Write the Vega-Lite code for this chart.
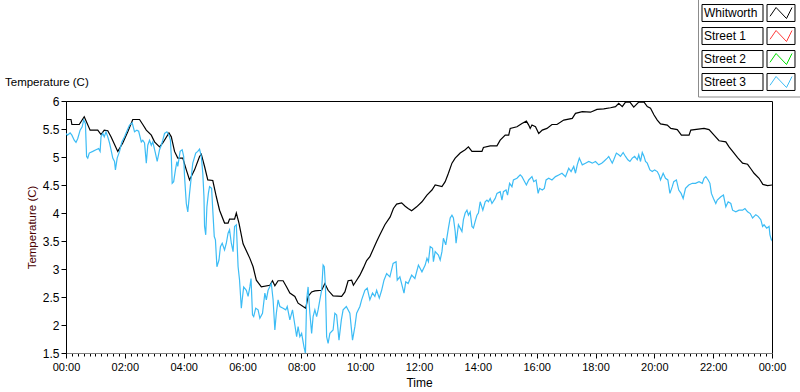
{
 "$schema": "https://vega.github.io/schema/vega-lite/v6.json",
 "width": 706, "height": 252,
 "autosize": {"type": "none"},
 "padding": {"left": 66, "top": 101, "right": 28, "bottom": 39},
 "background": "white",
 "config": {"view": {"stroke": "#000", "strokeWidth": 1}, "font": "Liberation Sans"},
 "title": {"text": "Temperature (C)", "anchor": "start", "frame": "group", "dx": -61, "offset": -91, "fontSize": 11.5, "fontWeight": "normal", "color": "#000", "font": "Liberation Sans"},
 "datasets": {
  "temps": [
{"t":0.00,"v":5.67,"s":"Whitworth"},{"t":0.17,"v":5.67,"s":"Whitworth"},{"t":0.20,"v":5.58,"s":"Whitworth"},{"t":0.45,"v":5.58,"s":"Whitworth"},{"t":0.62,"v":5.72,"s":"Whitworth"},{"t":0.82,"v":5.48,"s":"Whitworth"},{"t":1.08,"v":5.48,"s":"Whitworth"},{"t":1.19,"v":5.40,"s":"Whitworth"},{"t":1.30,"v":5.48,"s":"Whitworth"},{"t":1.42,"v":5.47,"s":"Whitworth"},{"t":1.53,"v":5.36,"s":"Whitworth"},{"t":1.76,"v":5.10,"s":"Whitworth"},{"t":1.93,"v":5.25,"s":"Whitworth"},{"t":2.10,"v":5.45,"s":"Whitworth"},{"t":2.27,"v":5.67,"s":"Whitworth"},{"t":2.50,"v":5.67,"s":"Whitworth"},{"t":2.61,"v":5.58,"s":"Whitworth"},{"t":2.73,"v":5.48,"s":"Whitworth"},{"t":2.90,"v":5.39,"s":"Whitworth"},{"t":3.01,"v":5.27,"s":"Whitworth"},{"t":3.18,"v":5.18,"s":"Whitworth"},{"t":3.29,"v":5.25,"s":"Whitworth"},{"t":3.50,"v":5.43,"s":"Whitworth"},{"t":3.58,"v":5.36,"s":"Whitworth"},{"t":3.69,"v":5.10,"s":"Whitworth"},{"t":3.80,"v":4.98,"s":"Whitworth"},{"t":3.97,"v":4.98,"s":"Whitworth"},{"t":4.09,"v":4.77,"s":"Whitworth"},{"t":4.20,"v":4.59,"s":"Whitworth"},{"t":4.37,"v":4.77,"s":"Whitworth"},{"t":4.54,"v":5.01,"s":"Whitworth"},{"t":4.60,"v":5.05,"s":"Whitworth"},{"t":4.71,"v":4.83,"s":"Whitworth"},{"t":4.82,"v":4.59,"s":"Whitworth"},{"t":4.99,"v":4.58,"s":"Whitworth"},{"t":5.11,"v":4.29,"s":"Whitworth"},{"t":5.22,"v":4.05,"s":"Whitworth"},{"t":5.39,"v":3.82,"s":"Whitworth"},{"t":5.51,"v":3.82,"s":"Whitworth"},{"t":5.56,"v":3.89,"s":"Whitworth"},{"t":5.73,"v":3.89,"s":"Whitworth"},{"t":5.79,"v":4.00,"s":"Whitworth"},{"t":5.88,"v":3.82,"s":"Whitworth"},{"t":6.02,"v":3.45,"s":"Whitworth"},{"t":6.25,"v":3.19,"s":"Whitworth"},{"t":6.36,"v":3.04,"s":"Whitworth"},{"t":6.47,"v":2.80,"s":"Whitworth"},{"t":6.64,"v":2.68,"s":"Whitworth"},{"t":6.93,"v":2.71,"s":"Whitworth"},{"t":7.02,"v":2.79,"s":"Whitworth"},{"t":7.10,"v":2.70,"s":"Whitworth"},{"t":7.21,"v":2.79,"s":"Whitworth"},{"t":7.38,"v":2.79,"s":"Whitworth"},{"t":7.50,"v":2.68,"s":"Whitworth"},{"t":7.61,"v":2.57,"s":"Whitworth"},{"t":7.78,"v":2.51,"s":"Whitworth"},{"t":7.89,"v":2.39,"s":"Whitworth"},{"t":8.06,"v":2.33,"s":"Whitworth"},{"t":8.15,"v":2.30,"s":"Whitworth"},{"t":8.23,"v":2.51,"s":"Whitworth"},{"t":8.35,"v":2.59,"s":"Whitworth"},{"t":8.46,"v":2.61,"s":"Whitworth"},{"t":8.69,"v":2.62,"s":"Whitworth"},{"t":8.80,"v":2.74,"s":"Whitworth"},{"t":8.91,"v":2.62,"s":"Whitworth"},{"t":9.08,"v":2.52,"s":"Whitworth"},{"t":9.37,"v":2.51,"s":"Whitworth"},{"t":9.48,"v":2.59,"s":"Whitworth"},{"t":9.59,"v":2.79,"s":"Whitworth"},{"t":9.71,"v":2.80,"s":"Whitworth"},{"t":9.77,"v":2.71,"s":"Whitworth"},{"t":9.88,"v":2.80,"s":"Whitworth"},{"t":9.99,"v":2.89,"s":"Whitworth"},{"t":10.11,"v":3.02,"s":"Whitworth"},{"t":10.22,"v":3.15,"s":"Whitworth"},{"t":10.33,"v":3.22,"s":"Whitworth"},{"t":10.56,"v":3.49,"s":"Whitworth"},{"t":10.67,"v":3.61,"s":"Whitworth"},{"t":10.84,"v":3.79,"s":"Whitworth"},{"t":11.02,"v":3.93,"s":"Whitworth"},{"t":11.13,"v":4.08,"s":"Whitworth"},{"t":11.24,"v":4.16,"s":"Whitworth"},{"t":11.41,"v":4.18,"s":"Whitworth"},{"t":11.53,"v":4.12,"s":"Whitworth"},{"t":11.63,"v":4.08,"s":"Whitworth"},{"t":11.75,"v":4.04,"s":"Whitworth"},{"t":11.92,"v":4.11,"s":"Whitworth"},{"t":12.10,"v":4.20,"s":"Whitworth"},{"t":12.27,"v":4.32,"s":"Whitworth"},{"t":12.44,"v":4.41,"s":"Whitworth"},{"t":12.55,"v":4.50,"s":"Whitworth"},{"t":12.78,"v":4.47,"s":"Whitworth"},{"t":12.89,"v":4.56,"s":"Whitworth"},{"t":13.00,"v":4.71,"s":"Whitworth"},{"t":13.12,"v":4.89,"s":"Whitworth"},{"t":13.23,"v":4.98,"s":"Whitworth"},{"t":13.40,"v":5.07,"s":"Whitworth"},{"t":13.57,"v":5.13,"s":"Whitworth"},{"t":13.68,"v":5.18,"s":"Whitworth"},{"t":13.80,"v":5.10,"s":"Whitworth"},{"t":14.14,"v":5.10,"s":"Whitworth"},{"t":14.19,"v":5.17,"s":"Whitworth"},{"t":14.42,"v":5.20,"s":"Whitworth"},{"t":14.65,"v":5.20,"s":"Whitworth"},{"t":14.76,"v":5.30,"s":"Whitworth"},{"t":14.93,"v":5.39,"s":"Whitworth"},{"t":15.05,"v":5.39,"s":"Whitworth"},{"t":15.10,"v":5.51,"s":"Whitworth"},{"t":15.33,"v":5.54,"s":"Whitworth"},{"t":15.50,"v":5.60,"s":"Whitworth"},{"t":15.65,"v":5.64,"s":"Whitworth"},{"t":15.73,"v":5.57,"s":"Whitworth"},{"t":15.78,"v":5.51,"s":"Whitworth"},{"t":15.84,"v":5.57,"s":"Whitworth"},{"t":15.96,"v":5.54,"s":"Whitworth"},{"t":16.07,"v":5.42,"s":"Whitworth"},{"t":16.19,"v":5.48,"s":"Whitworth"},{"t":16.35,"v":5.51,"s":"Whitworth"},{"t":16.52,"v":5.58,"s":"Whitworth"},{"t":16.69,"v":5.58,"s":"Whitworth"},{"t":16.92,"v":5.66,"s":"Whitworth"},{"t":17.21,"v":5.69,"s":"Whitworth"},{"t":17.32,"v":5.78,"s":"Whitworth"},{"t":17.55,"v":5.81,"s":"Whitworth"},{"t":17.83,"v":5.80,"s":"Whitworth"},{"t":18.05,"v":5.85,"s":"Whitworth"},{"t":18.28,"v":5.86,"s":"Whitworth"},{"t":18.51,"v":5.88,"s":"Whitworth"},{"t":18.68,"v":5.90,"s":"Whitworth"},{"t":18.79,"v":5.96,"s":"Whitworth"},{"t":18.91,"v":5.90,"s":"Whitworth"},{"t":19.02,"v":5.98,"s":"Whitworth"},{"t":19.17,"v":5.98,"s":"Whitworth"},{"t":19.30,"v":5.89,"s":"Whitworth"},{"t":19.47,"v":5.98,"s":"Whitworth"},{"t":19.65,"v":5.98,"s":"Whitworth"},{"t":19.76,"v":5.90,"s":"Whitworth"},{"t":19.87,"v":5.87,"s":"Whitworth"},{"t":19.99,"v":5.75,"s":"Whitworth"},{"t":20.10,"v":5.66,"s":"Whitworth"},{"t":20.21,"v":5.59,"s":"Whitworth"},{"t":20.44,"v":5.57,"s":"Whitworth"},{"t":20.56,"v":5.51,"s":"Whitworth"},{"t":20.78,"v":5.49,"s":"Whitworth"},{"t":20.92,"v":5.39,"s":"Whitworth"},{"t":21.18,"v":5.39,"s":"Whitworth"},{"t":21.24,"v":5.48,"s":"Whitworth"},{"t":21.69,"v":5.51,"s":"Whitworth"},{"t":21.86,"v":5.49,"s":"Whitworth"},{"t":22.03,"v":5.39,"s":"Whitworth"},{"t":22.20,"v":5.29,"s":"Whitworth"},{"t":22.43,"v":5.27,"s":"Whitworth"},{"t":22.54,"v":5.18,"s":"Whitworth"},{"t":22.71,"v":5.07,"s":"Whitworth"},{"t":22.83,"v":4.99,"s":"Whitworth"},{"t":23.00,"v":4.89,"s":"Whitworth"},{"t":23.17,"v":4.87,"s":"Whitworth"},{"t":23.28,"v":4.79,"s":"Whitworth"},{"t":23.39,"v":4.71,"s":"Whitworth"},{"t":23.56,"v":4.62,"s":"Whitworth"},{"t":23.69,"v":4.51,"s":"Whitworth"},{"t":23.85,"v":4.49,"s":"Whitworth"},{"t":24.00,"v":4.50,"s":"Whitworth"},
{"t":0.00,"v":5.42,"s":"Street 3"},{"t":0.05,"v":5.39,"s":"Street 3"},{"t":0.14,"v":5.43,"s":"Street 3"},{"t":0.20,"v":5.39,"s":"Street 3"},{"t":0.28,"v":5.30,"s":"Street 3"},{"t":0.34,"v":5.26,"s":"Street 3"},{"t":0.40,"v":5.33,"s":"Street 3"},{"t":0.48,"v":5.48,"s":"Street 3"},{"t":0.55,"v":5.54,"s":"Street 3"},{"t":0.60,"v":5.66,"s":"Street 3"},{"t":0.66,"v":5.60,"s":"Street 3"},{"t":0.68,"v":5.30,"s":"Street 3"},{"t":0.70,"v":5.01,"s":"Street 3"},{"t":0.74,"v":4.98,"s":"Street 3"},{"t":0.79,"v":5.07,"s":"Street 3"},{"t":0.91,"v":5.10,"s":"Street 3"},{"t":1.02,"v":5.13,"s":"Street 3"},{"t":1.11,"v":5.15,"s":"Street 3"},{"t":1.16,"v":5.10,"s":"Street 3"},{"t":1.19,"v":5.36,"s":"Street 3"},{"t":1.25,"v":5.42,"s":"Street 3"},{"t":1.30,"v":5.36,"s":"Street 3"},{"t":1.36,"v":5.45,"s":"Street 3"},{"t":1.42,"v":5.36,"s":"Street 3"},{"t":1.48,"v":5.25,"s":"Street 3"},{"t":1.53,"v":5.13,"s":"Street 3"},{"t":1.59,"v":4.98,"s":"Street 3"},{"t":1.65,"v":4.92,"s":"Street 3"},{"t":1.68,"v":4.77,"s":"Street 3"},{"t":1.74,"v":4.98,"s":"Street 3"},{"t":1.82,"v":5.10,"s":"Street 3"},{"t":1.90,"v":5.27,"s":"Street 3"},{"t":1.99,"v":5.36,"s":"Street 3"},{"t":2.06,"v":5.45,"s":"Street 3"},{"t":2.16,"v":5.57,"s":"Street 3"},{"t":2.25,"v":5.61,"s":"Street 3"},{"t":2.33,"v":5.45,"s":"Street 3"},{"t":2.41,"v":5.48,"s":"Street 3"},{"t":2.47,"v":5.46,"s":"Street 3"},{"t":2.56,"v":5.27,"s":"Street 3"},{"t":2.61,"v":5.30,"s":"Street 3"},{"t":2.67,"v":5.25,"s":"Street 3"},{"t":2.73,"v":4.89,"s":"Street 3"},{"t":2.78,"v":5.21,"s":"Street 3"},{"t":2.84,"v":5.30,"s":"Street 3"},{"t":2.90,"v":5.21,"s":"Street 3"},{"t":2.95,"v":5.27,"s":"Street 3"},{"t":3.04,"v":5.07,"s":"Street 3"},{"t":3.10,"v":4.92,"s":"Street 3"},{"t":3.18,"v":5.13,"s":"Street 3"},{"t":3.24,"v":5.21,"s":"Street 3"},{"t":3.29,"v":5.30,"s":"Street 3"},{"t":3.35,"v":5.42,"s":"Street 3"},{"t":3.43,"v":5.45,"s":"Street 3"},{"t":3.50,"v":5.39,"s":"Street 3"},{"t":3.55,"v":5.30,"s":"Street 3"},{"t":3.58,"v":5.01,"s":"Street 3"},{"t":3.61,"v":4.53,"s":"Street 3"},{"t":3.66,"v":4.56,"s":"Street 3"},{"t":3.72,"v":4.77,"s":"Street 3"},{"t":3.77,"v":4.92,"s":"Street 3"},{"t":3.80,"v":4.83,"s":"Street 3"},{"t":3.88,"v":5.10,"s":"Street 3"},{"t":3.95,"v":5.13,"s":"Street 3"},{"t":4.00,"v":5.01,"s":"Street 3"},{"t":4.03,"v":4.65,"s":"Street 3"},{"t":4.09,"v":4.17,"s":"Street 3"},{"t":4.14,"v":4.02,"s":"Street 3"},{"t":4.20,"v":4.35,"s":"Street 3"},{"t":4.26,"v":4.65,"s":"Street 3"},{"t":4.31,"v":4.89,"s":"Street 3"},{"t":4.41,"v":5.07,"s":"Street 3"},{"t":4.48,"v":5.10,"s":"Street 3"},{"t":4.54,"v":5.14,"s":"Street 3"},{"t":4.60,"v":5.01,"s":"Street 3"},{"t":4.65,"v":4.71,"s":"Street 3"},{"t":4.69,"v":4.29,"s":"Street 3"},{"t":4.71,"v":3.76,"s":"Street 3"},{"t":4.75,"v":3.61,"s":"Street 3"},{"t":4.79,"v":4.11,"s":"Street 3"},{"t":4.84,"v":4.35,"s":"Street 3"},{"t":4.88,"v":4.47,"s":"Street 3"},{"t":4.95,"v":4.44,"s":"Street 3"},{"t":4.99,"v":4.05,"s":"Street 3"},{"t":5.04,"v":3.58,"s":"Street 3"},{"t":5.08,"v":3.52,"s":"Street 3"},{"t":5.13,"v":3.04,"s":"Street 3"},{"t":5.20,"v":3.16,"s":"Street 3"},{"t":5.25,"v":3.40,"s":"Street 3"},{"t":5.31,"v":3.46,"s":"Street 3"},{"t":5.39,"v":3.34,"s":"Street 3"},{"t":5.45,"v":3.46,"s":"Street 3"},{"t":5.51,"v":3.64,"s":"Street 3"},{"t":5.56,"v":3.70,"s":"Street 3"},{"t":5.62,"v":3.46,"s":"Street 3"},{"t":5.68,"v":3.31,"s":"Street 3"},{"t":5.73,"v":3.76,"s":"Street 3"},{"t":5.79,"v":3.79,"s":"Street 3"},{"t":5.85,"v":3.04,"s":"Street 3"},{"t":5.90,"v":2.80,"s":"Street 3"},{"t":5.96,"v":2.30,"s":"Street 3"},{"t":5.99,"v":2.45,"s":"Street 3"},{"t":6.04,"v":2.68,"s":"Street 3"},{"t":6.13,"v":2.62,"s":"Street 3"},{"t":6.19,"v":2.51,"s":"Street 3"},{"t":6.25,"v":2.68,"s":"Street 3"},{"t":6.29,"v":2.83,"s":"Street 3"},{"t":6.34,"v":2.18,"s":"Street 3"},{"t":6.38,"v":2.15,"s":"Street 3"},{"t":6.45,"v":2.30,"s":"Street 3"},{"t":6.53,"v":2.27,"s":"Street 3"},{"t":6.59,"v":2.12,"s":"Street 3"},{"t":6.68,"v":2.21,"s":"Street 3"},{"t":6.76,"v":2.57,"s":"Street 3"},{"t":6.81,"v":2.45,"s":"Street 3"},{"t":6.87,"v":2.62,"s":"Street 3"},{"t":6.98,"v":2.74,"s":"Street 3"},{"t":7.04,"v":2.45,"s":"Street 3"},{"t":7.10,"v":1.91,"s":"Street 3"},{"t":7.15,"v":2.21,"s":"Street 3"},{"t":7.21,"v":2.45,"s":"Street 3"},{"t":7.27,"v":2.33,"s":"Street 3"},{"t":7.38,"v":2.30,"s":"Street 3"},{"t":7.47,"v":2.27,"s":"Street 3"},{"t":7.52,"v":2.33,"s":"Street 3"},{"t":7.61,"v":2.09,"s":"Street 3"},{"t":7.70,"v":2.27,"s":"Street 3"},{"t":7.78,"v":2.00,"s":"Street 3"},{"t":7.84,"v":1.79,"s":"Street 3"},{"t":7.89,"v":1.97,"s":"Street 3"},{"t":7.95,"v":1.79,"s":"Street 3"},{"t":8.01,"v":1.85,"s":"Street 3"},{"t":8.09,"v":1.61,"s":"Street 3"},{"t":8.14,"v":1.49,"s":"Street 3"},{"t":8.18,"v":2.45,"s":"Street 3"},{"t":8.23,"v":2.68,"s":"Street 3"},{"t":8.29,"v":2.21,"s":"Street 3"},{"t":8.35,"v":1.85,"s":"Street 3"},{"t":8.40,"v":2.15,"s":"Street 3"},{"t":8.46,"v":2.27,"s":"Street 3"},{"t":8.52,"v":2.15,"s":"Street 3"},{"t":8.57,"v":2.27,"s":"Street 3"},{"t":8.63,"v":2.45,"s":"Street 3"},{"t":8.69,"v":2.62,"s":"Street 3"},{"t":8.74,"v":3.07,"s":"Street 3"},{"t":8.78,"v":3.04,"s":"Street 3"},{"t":8.82,"v":2.68,"s":"Street 3"},{"t":8.86,"v":1.79,"s":"Street 3"},{"t":8.91,"v":1.67,"s":"Street 3"},{"t":8.97,"v":1.85,"s":"Street 3"},{"t":9.08,"v":1.91,"s":"Street 3"},{"t":9.14,"v":2.21,"s":"Street 3"},{"t":9.20,"v":2.18,"s":"Street 3"},{"t":9.28,"v":1.73,"s":"Street 3"},{"t":9.36,"v":2.09,"s":"Street 3"},{"t":9.42,"v":2.27,"s":"Street 3"},{"t":9.53,"v":2.33,"s":"Street 3"},{"t":9.65,"v":2.21,"s":"Street 3"},{"t":9.74,"v":1.73,"s":"Street 3"},{"t":9.82,"v":1.97,"s":"Street 3"},{"t":9.88,"v":2.21,"s":"Street 3"},{"t":9.99,"v":2.33,"s":"Street 3"},{"t":10.05,"v":2.45,"s":"Street 3"},{"t":10.16,"v":2.62,"s":"Street 3"},{"t":10.24,"v":2.66,"s":"Street 3"},{"t":10.33,"v":2.45,"s":"Street 3"},{"t":10.42,"v":2.57,"s":"Street 3"},{"t":10.50,"v":2.51,"s":"Street 3"},{"t":10.56,"v":2.62,"s":"Street 3"},{"t":10.65,"v":2.48,"s":"Street 3"},{"t":10.73,"v":2.62,"s":"Street 3"},{"t":10.81,"v":2.80,"s":"Street 3"},{"t":10.90,"v":2.92,"s":"Street 3"},{"t":11.01,"v":2.86,"s":"Street 3"},{"t":11.12,"v":3.10,"s":"Street 3"},{"t":11.22,"v":3.13,"s":"Street 3"},{"t":11.26,"v":2.80,"s":"Street 3"},{"t":11.35,"v":2.86,"s":"Street 3"},{"t":11.49,"v":2.57,"s":"Street 3"},{"t":11.55,"v":2.77,"s":"Street 3"},{"t":11.63,"v":2.74,"s":"Street 3"},{"t":11.75,"v":2.89,"s":"Street 3"},{"t":11.86,"v":2.83,"s":"Street 3"},{"t":11.98,"v":3.07,"s":"Street 3"},{"t":12.10,"v":2.95,"s":"Street 3"},{"t":12.21,"v":3.07,"s":"Street 3"},{"t":12.27,"v":3.19,"s":"Street 3"},{"t":12.32,"v":3.13,"s":"Street 3"},{"t":12.38,"v":3.40,"s":"Street 3"},{"t":12.46,"v":3.37,"s":"Street 3"},{"t":12.49,"v":3.13,"s":"Street 3"},{"t":12.55,"v":3.31,"s":"Street 3"},{"t":12.66,"v":3.25,"s":"Street 3"},{"t":12.72,"v":3.16,"s":"Street 3"},{"t":12.78,"v":3.31,"s":"Street 3"},{"t":12.83,"v":3.55,"s":"Street 3"},{"t":12.91,"v":3.43,"s":"Street 3"},{"t":13.00,"v":3.73,"s":"Street 3"},{"t":13.06,"v":3.91,"s":"Street 3"},{"t":13.12,"v":3.96,"s":"Street 3"},{"t":13.17,"v":3.91,"s":"Street 3"},{"t":13.23,"v":3.67,"s":"Street 3"},{"t":13.26,"v":3.46,"s":"Street 3"},{"t":13.34,"v":3.79,"s":"Street 3"},{"t":13.40,"v":3.73,"s":"Street 3"},{"t":13.46,"v":3.67,"s":"Street 3"},{"t":13.51,"v":3.88,"s":"Street 3"},{"t":13.57,"v":4.00,"s":"Street 3"},{"t":13.63,"v":4.05,"s":"Street 3"},{"t":13.68,"v":3.96,"s":"Street 3"},{"t":13.74,"v":4.02,"s":"Street 3"},{"t":13.80,"v":3.76,"s":"Street 3"},{"t":13.85,"v":3.73,"s":"Street 3"},{"t":13.91,"v":3.85,"s":"Street 3"},{"t":13.97,"v":3.96,"s":"Street 3"},{"t":14.02,"v":4.00,"s":"Street 3"},{"t":14.08,"v":4.20,"s":"Street 3"},{"t":14.17,"v":4.05,"s":"Street 3"},{"t":14.25,"v":4.20,"s":"Street 3"},{"t":14.31,"v":4.23,"s":"Street 3"},{"t":14.36,"v":4.20,"s":"Street 3"},{"t":14.42,"v":4.26,"s":"Street 3"},{"t":14.48,"v":4.17,"s":"Street 3"},{"t":14.59,"v":4.26,"s":"Street 3"},{"t":14.65,"v":4.35,"s":"Street 3"},{"t":14.76,"v":4.38,"s":"Street 3"},{"t":14.82,"v":4.23,"s":"Street 3"},{"t":14.87,"v":4.38,"s":"Street 3"},{"t":14.96,"v":4.41,"s":"Street 3"},{"t":15.01,"v":4.32,"s":"Street 3"},{"t":15.08,"v":4.53,"s":"Street 3"},{"t":15.16,"v":4.47,"s":"Street 3"},{"t":15.21,"v":4.59,"s":"Street 3"},{"t":15.33,"v":4.62,"s":"Street 3"},{"t":15.44,"v":4.68,"s":"Street 3"},{"t":15.50,"v":4.65,"s":"Street 3"},{"t":15.56,"v":4.59,"s":"Street 3"},{"t":15.65,"v":4.50,"s":"Street 3"},{"t":15.73,"v":4.59,"s":"Street 3"},{"t":15.84,"v":4.65,"s":"Street 3"},{"t":15.90,"v":4.56,"s":"Street 3"},{"t":15.98,"v":4.59,"s":"Street 3"},{"t":16.05,"v":4.35,"s":"Street 3"},{"t":16.10,"v":4.44,"s":"Street 3"},{"t":16.19,"v":4.41,"s":"Street 3"},{"t":16.26,"v":4.44,"s":"Street 3"},{"t":16.32,"v":4.59,"s":"Street 3"},{"t":16.41,"v":4.62,"s":"Street 3"},{"t":16.52,"v":4.59,"s":"Street 3"},{"t":16.64,"v":4.65,"s":"Street 3"},{"t":16.75,"v":4.68,"s":"Street 3"},{"t":16.86,"v":4.71,"s":"Street 3"},{"t":16.98,"v":4.65,"s":"Street 3"},{"t":17.09,"v":4.80,"s":"Street 3"},{"t":17.17,"v":4.74,"s":"Street 3"},{"t":17.26,"v":4.83,"s":"Street 3"},{"t":17.32,"v":4.71,"s":"Street 3"},{"t":17.38,"v":4.86,"s":"Street 3"},{"t":17.45,"v":4.98,"s":"Street 3"},{"t":17.55,"v":4.86,"s":"Street 3"},{"t":17.66,"v":4.89,"s":"Street 3"},{"t":17.77,"v":4.92,"s":"Street 3"},{"t":17.89,"v":4.89,"s":"Street 3"},{"t":18.00,"v":4.92,"s":"Street 3"},{"t":18.11,"v":4.86,"s":"Street 3"},{"t":18.21,"v":4.89,"s":"Street 3"},{"t":18.28,"v":4.92,"s":"Street 3"},{"t":18.40,"v":4.98,"s":"Street 3"},{"t":18.45,"v":5.01,"s":"Street 3"},{"t":18.57,"v":4.89,"s":"Street 3"},{"t":18.62,"v":4.95,"s":"Street 3"},{"t":18.71,"v":5.07,"s":"Street 3"},{"t":18.79,"v":5.04,"s":"Street 3"},{"t":18.85,"v":5.01,"s":"Street 3"},{"t":18.94,"v":5.08,"s":"Street 3"},{"t":19.02,"v":5.01,"s":"Street 3"},{"t":19.10,"v":4.95,"s":"Street 3"},{"t":19.17,"v":4.92,"s":"Street 3"},{"t":19.25,"v":4.98,"s":"Street 3"},{"t":19.33,"v":5.01,"s":"Street 3"},{"t":19.42,"v":4.95,"s":"Street 3"},{"t":19.47,"v":5.04,"s":"Street 3"},{"t":19.53,"v":4.92,"s":"Street 3"},{"t":19.59,"v":5.08,"s":"Street 3"},{"t":19.65,"v":5.01,"s":"Street 3"},{"t":19.70,"v":4.92,"s":"Street 3"},{"t":19.76,"v":4.89,"s":"Street 3"},{"t":19.85,"v":4.77,"s":"Street 3"},{"t":19.93,"v":4.74,"s":"Street 3"},{"t":20.01,"v":4.77,"s":"Street 3"},{"t":20.10,"v":4.74,"s":"Street 3"},{"t":20.16,"v":4.68,"s":"Street 3"},{"t":20.21,"v":4.59,"s":"Street 3"},{"t":20.30,"v":4.71,"s":"Street 3"},{"t":20.38,"v":4.62,"s":"Street 3"},{"t":20.46,"v":4.59,"s":"Street 3"},{"t":20.53,"v":4.35,"s":"Street 3"},{"t":20.61,"v":4.47,"s":"Street 3"},{"t":20.66,"v":4.56,"s":"Street 3"},{"t":20.75,"v":4.59,"s":"Street 3"},{"t":20.83,"v":4.41,"s":"Street 3"},{"t":20.91,"v":4.35,"s":"Street 3"},{"t":20.98,"v":4.26,"s":"Street 3"},{"t":21.06,"v":4.44,"s":"Street 3"},{"t":21.17,"v":4.50,"s":"Street 3"},{"t":21.29,"v":4.53,"s":"Street 3"},{"t":21.40,"v":4.53,"s":"Street 3"},{"t":21.52,"v":4.56,"s":"Street 3"},{"t":21.63,"v":4.53,"s":"Street 3"},{"t":21.69,"v":4.62,"s":"Street 3"},{"t":21.75,"v":4.65,"s":"Street 3"},{"t":21.83,"v":4.59,"s":"Street 3"},{"t":21.89,"v":4.53,"s":"Street 3"},{"t":21.94,"v":4.35,"s":"Street 3"},{"t":22.01,"v":4.26,"s":"Street 3"},{"t":22.09,"v":4.17,"s":"Street 3"},{"t":22.14,"v":4.23,"s":"Street 3"},{"t":22.26,"v":4.29,"s":"Street 3"},{"t":22.35,"v":4.32,"s":"Street 3"},{"t":22.43,"v":4.11,"s":"Street 3"},{"t":22.51,"v":4.20,"s":"Street 3"},{"t":22.60,"v":4.17,"s":"Street 3"},{"t":22.66,"v":4.05,"s":"Street 3"},{"t":22.77,"v":4.02,"s":"Street 3"},{"t":22.88,"v":4.05,"s":"Street 3"},{"t":23.00,"v":4.05,"s":"Street 3"},{"t":23.08,"v":4.08,"s":"Street 3"},{"t":23.17,"v":4.02,"s":"Street 3"},{"t":23.26,"v":3.99,"s":"Street 3"},{"t":23.34,"v":3.91,"s":"Street 3"},{"t":23.45,"v":3.97,"s":"Street 3"},{"t":23.53,"v":3.94,"s":"Street 3"},{"t":23.62,"v":3.88,"s":"Street 3"},{"t":23.68,"v":3.76,"s":"Street 3"},{"t":23.73,"v":3.79,"s":"Street 3"},{"t":23.82,"v":3.73,"s":"Street 3"},{"t":23.90,"v":3.76,"s":"Street 3"},{"t":23.93,"v":3.61,"s":"Street 3"},{"t":23.98,"v":3.52,"s":"Street 3"},{"t":24.00,"v":3.54,"s":"Street 3"}
  ],
  "keys": [{"k": "box1"}, {"k": "box2"}, {"k": "box3"}, {"k": "box4"}]
 },
 "layer": [
  {
   "data": {"name": "keys"},
   "mark": {"type": "point", "opacity": 0, "filled": false, "color": "#000"},
   "encoding": {
    "shape": {"field": "k", "type": "nominal",
     "scale": {"domain": ["box1", "box2", "box3", "box4"], "range": ["M-1.045,-0.77H4.50V0.77H-1.045Z M4.864,-0.77H7.409V0.77H4.864Z", "M-1.045,-0.77H4.50V0.77H-1.045Z M4.864,-0.77H7.409V0.77H4.864Z", "M-1.045,-0.77H4.50V0.77H-1.045Z M4.864,-0.77H7.409V0.77H4.864Z", "M-1.045,-0.77H4.50V0.77H-1.045Z M4.864,-0.77H7.409V0.77H4.864Z"]},
     "legend": {"title": null, "orient": "none", "legendX": 632, "legendY": -103.5, "padding": 4, "rowPadding": 1, "strokeColor": "#8c8c8c", "symbolSize": 484, "symbolStrokeColor": "#000", "symbolFillColor": "transparent", "symbolStrokeWidth": 1, "symbolOpacity": 1, "labelExpr": "''",
      "encode": {"symbols": {"update": {"stroke": {"value": "#000"}, "fill": {"value": "transparent"}, "opacity": {"value": 1}}}}}
    }
   }
  },
  {
   "data": {"name": "temps"},
   "mark": {"type": "line", "strokeWidth": 1.2, "clip": true},
   "encoding": {
    "x": {"field": "t", "type": "quantitative",
     "scale": {"domain": [0, 24], "nice": false, "zero": false},
     "axis": {"title": "Time", "tickCount": 120, "grid": false,
      "labelExpr": "abs(datum.value/2 - round(datum.value/2)) < 0.01 ? ((round(datum.value) % 24 < 10 ? '0' : '') + (round(datum.value) % 24) + ':00') : ''",
      "labelOverlap": false, "labelFlush": false, "labelBound": false,
      "tickSize": {"condition": {"test": "abs(datum.value/2 - round(datum.value/2)) < 0.01", "value": 5}, "value": 3},
      "domainColor": "#808080", "tickColor": "#000", "labelPadding": 3, "labelFontSize": 11, "labelColor": "#000", "labelFont": "Liberation Sans",
      "titleFontSize": 12, "titleFontWeight": "normal", "titleColor": "#000", "titlePadding": 5, "titleFont": "Liberation Sans"}},
    "y": {"field": "v", "type": "quantitative",
     "scale": {"domain": [1.5, 6], "nice": false, "zero": false},
     "axis": {"title": "Temperature (C)", "values": [1.5, 2, 2.5, 3, 3.5, 4, 4.5, 5, 5.5, 6], "format": "~g", "grid": false,
      "tickSize": 5, "labelPadding": 2, "labelFontSize": 12, "labelColor": "#000", "labelFont": "Liberation Sans",
      "domainColor": "#000", "tickColor": "#000",
      "titleFontSize": 11.5, "titleFontWeight": "normal", "titleColor": "#4a0000", "titlePadding": 5, "titleFont": "Liberation Sans"}},
    "color": {"field": "s", "type": "nominal",
     "scale": {"domain": ["Whitworth", "Street 1", "Street 2", "Street 3"], "range": ["#000000", "#ff3a3a", "#00dd00", "#3cbcf5"]},
     "legend": {"title": null, "orient": "none", "legendX": 703.5, "legendY": -99.5, "padding": 0, "rowPadding": 1,
      "symbolType": "M-1,0.3L-0.45,-0.5L0.5,0.5L1,-0.5M0,-0.77L0,-0.77M0,0.77L0,0.77", "symbolSize": 484, "symbolStrokeWidth": 1,
      "labelOffset": -88.5, "labelFontSize": 12, "labelFont": "Liberation Sans", "labelColor": "#000", "labelLimit": 120,
      "encode": {"symbols": {"update": {"fill": {"value": "transparent"}}}}}
    }
   }
  }
 ]
}
